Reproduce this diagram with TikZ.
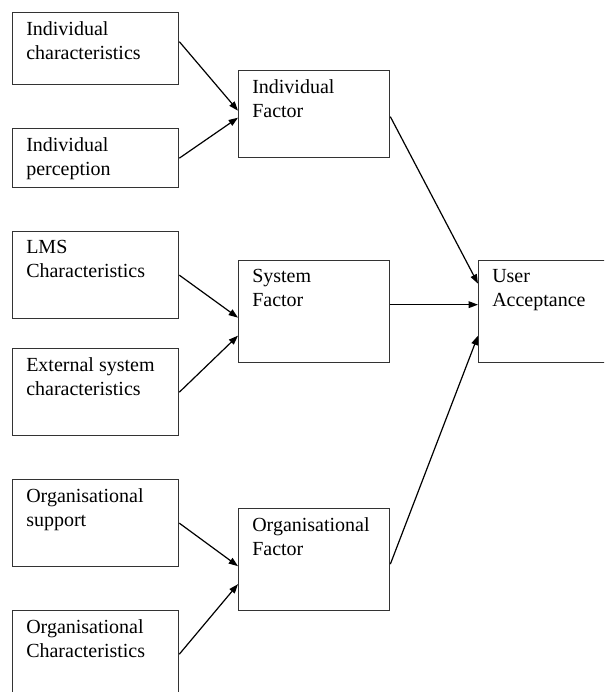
\documentclass[tikz,border=0pt]{standalone}
\usepackage{fontspec}
\setmainfont{Liberation Serif}
\usepackage{tikz}
\usetikzlibrary{arrows.meta,calc,positioning}

\begin{document}
\begin{tikzpicture}[
  x=0.75pt, y=-0.75pt,
  box/.style={draw=black!80, line width=1pt, anchor=north west, inner sep=0pt,
    minimum width=124.5pt, minimum height=65.25pt},
  factor/.style={box, minimum width=113.25pt, minimum height=76.5pt},
  txt/.style={anchor=north west, align=left, inner xsep=10.5pt, inner ysep=7pt,
    font=\fontsize{15}{18}\selectfont},
  link/.style={-{Triangle[length=7pt,width=5pt]}, line width=0.9pt}
]
\useasboundingbox (0,0) rectangle (604,692);
\clip (0,0) rectangle (604,692);

% left column
\node[box, minimum height=54pt] (ic) at (12,12) {};
\node[box, minimum height=44.25pt] (ip) at (12,128) {};
\node[box] (lms) at (12,231) {};
\node[box] (ext) at (12,348) {};
\node[box] (os) at (12,479) {};
\node[box] (oc) at (12,610) {};

% factors
\node[factor, minimum height=65.25pt] (if) at (238,70) {};
\node[factor] (sf) at (238,260) {};
\node[factor] (of) at (238,508) {};
\node[factor] (ua) at (478,260) {};

% texts
\node[txt] (ic-t) at (ic.north west) {Individual\\characteristics};
\node[txt] (ip-t) at (ip.north west) {Individual\\perception};
\node[txt] (lms-t) at (lms.north west) {LMS\\Characteristics};
\node[txt] (ext-t) at (ext.north west) {External system\\characteristics};
\node[txt] (os-t) at (os.north west) {Organisational\\support};
\node[txt] (oc-t) at (oc.north west) {Organisational\\Characteristics};
\node[txt] (if-t) at (if.north west) {Individual\\Factor};
\node[txt] (sf-t) at (sf.north west) {System\\Factor};
\node[txt] (of-t) at (of.north west) {Organisational\\Factor};
\node[txt] (ua-t) at (ua.north west) {User\\Acceptance};

% arrows
\draw[link] ($(ic.east)+(0,-7)$) -- ($(if.west)+(0,-3.5)$);
\draw[link] (ip.east) -- ($(if.west)+(0,3.5)$);
\draw[link] (lms.east) -- ($(sf.west)+(0,6)$);
\draw[link] (ext.east) -- ($(sf.west)+(0,24)$);
\draw[link] (os.east) -- ($(of.west)+(0,6.5)$);
\draw[link] (oc.east) -- ($(of.west)+(0,24.5)$);
\draw[link] ($(if.east)+(0,2.5)$) -- ($(ua.west)+(0,-28)$);
\draw[link] ($(sf.east)+(0,-7)$) -- ($(ua.west)+(0,-7)$);
\draw[link] ($(of.east)+(0,4.5)$) -- ($(ua.west)+(0,24)$);
\end{tikzpicture}
\end{document}
